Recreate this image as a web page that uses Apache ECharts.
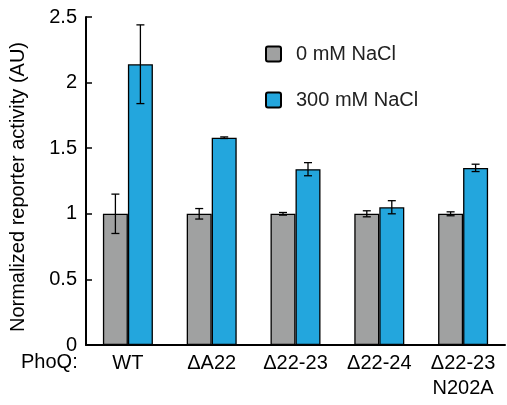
<!DOCTYPE html>
<html><head><meta charset="utf-8">
<script src="https://cdn.jsdelivr.net/npm/echarts@6/dist/echarts.min.js"></script>
<style>html,body{margin:0;padding:0;background:#fff}#c{width:507px;height:405px}</style>
</head><body><div id="c"></div>
<script>
const categories = ['WT', '\u0394A22', '\u039422-23', '\u039422-24', '\u039422-23\nN202A'];
const seriesNames = ['0 mM NaCl', '300 mM NaCl'];
const noSalt = [1.0, 1.0, 1.0, 1.0, 1.0];
const noSaltErr = [0.15, 0.04, 0.01, 0.023, 0.015];
const salt = [2.14, 1.58, 1.34, 1.05, 1.35];
const saltErr = [0.30, 0.006, 0.05, 0.05, 0.028];
const yTicks = [0, 0.5, 1, 1.5, 2, 2.5];

const FONT = 'Liberation Sans, Arial, sans-serif';
const BAR_W = 25;
const GRAY = '#a0a1a1';
const BLUE = '#23a6dd';
const ICON = 'path://M2,0H13A2,2,0,0,1,15,2V13A2,2,0,0,1,13,15H2A2,2,0,0,1,0,13V2A2,2,0,0,1,2,0Z';

function errSeries(vals, errs, offset) {
  return {
    type: 'custom',
    silent: true,
    z: 10,
    data: vals.map((v, i) => [i, v, errs[i]]),
    renderItem: function (params, api) {
      const i = api.value(0), v = api.value(1), e = api.value(2);
      const top = api.coord([i, v + e]);
      const bot = api.coord([i, v - e]);
      const x = top[0] + offset;
      const cap = 4;
      const st = { stroke: '#000', lineWidth: 1.3 };
      return {
        type: 'group',
        children: [
          { type: 'line', shape: { x1: x, y1: top[1], x2: x, y2: bot[1] }, style: st },
          { type: 'line', shape: { x1: x - cap, y1: top[1], x2: x + cap, y2: top[1] }, style: st },
          { type: 'line', shape: { x1: x - cap, y1: bot[1], x2: x + cap, y2: bot[1] }, style: st }
        ]
      };
    }
  };
}

const chart = echarts.init(document.getElementById('c'));
chart.setOption({
  animation: false,
  textStyle: { fontFamily: FONT },
  grid: { left: 84, right: 2, top: 17, bottom: 60, containLabel: false },
  legend: {
    orient: 'vertical',
    left: 260, top: 39,
    itemWidth: 15, itemHeight: 15,
    itemGap: 26,
    icon: ICON,
    data: seriesNames,
    itemStyle: { borderColor: '#000', borderWidth: 2 },
    textStyle: { fontSize: 20, color: '#222', fontFamily: FONT, padding: [0, 0, 0, 10] }
  },
  xAxis: {
    type: 'category',
    data: categories,
    axisLine: { lineStyle: { color: '#000', width: 2 } },
    axisTick: { inside: true, length: 6, lineStyle: { color: '#000', width: 1.5 } },
    axisLabel: { interval: 0, hideOverlap: false, color: '#000', fontSize: 20, margin: 6, lineHeight: 25, fontFamily: FONT }
  },
  yAxis: {
    type: 'value',
    min: 0, max: 2.5, interval: 0.5,
    name: 'Normalized reporter activity (AU)',
    nameLocation: 'middle',
    nameGap: 58,
    nameTextStyle: { color: '#000', fontSize: 20, fontFamily: FONT, padding: [0, 12, 0, 0] },
    splitLine: { show: false },
    axisLine: { show: true, lineStyle: { color: '#000', width: 2 } },
    axisTick: { show: true, inside: true, length: 6, lineStyle: { color: '#000', width: 1.5 } },
    axisLabel: {
      color: '#000', fontSize: 20, margin: 9, fontFamily: FONT,
      formatter: function (v) { return yTicks.indexOf(v) >= 0 ? String(v) : ''; }
    }
  },
  graphic: [{
    type: 'text', left: 21, top: 352,
    style: { text: 'PhoQ:', fontSize: 20, fontFamily: FONT, fill: '#000' }
  }],
  series: [
    {
      name: seriesNames[0], type: 'bar', data: noSalt, barWidth: BAR_W, barGap: '0%',
      itemStyle: { color: GRAY, borderColor: '#000', borderWidth: 1.3 }
    },
    {
      name: seriesNames[1], type: 'bar', data: salt, barWidth: BAR_W, barGap: '0%',
      itemStyle: { color: BLUE, borderColor: '#000', borderWidth: 1.3 }
    },
    errSeries(noSalt, noSaltErr, -BAR_W / 2),
    errSeries(salt, saltErr, BAR_W / 2)
  ]
});
</script></body></html>
